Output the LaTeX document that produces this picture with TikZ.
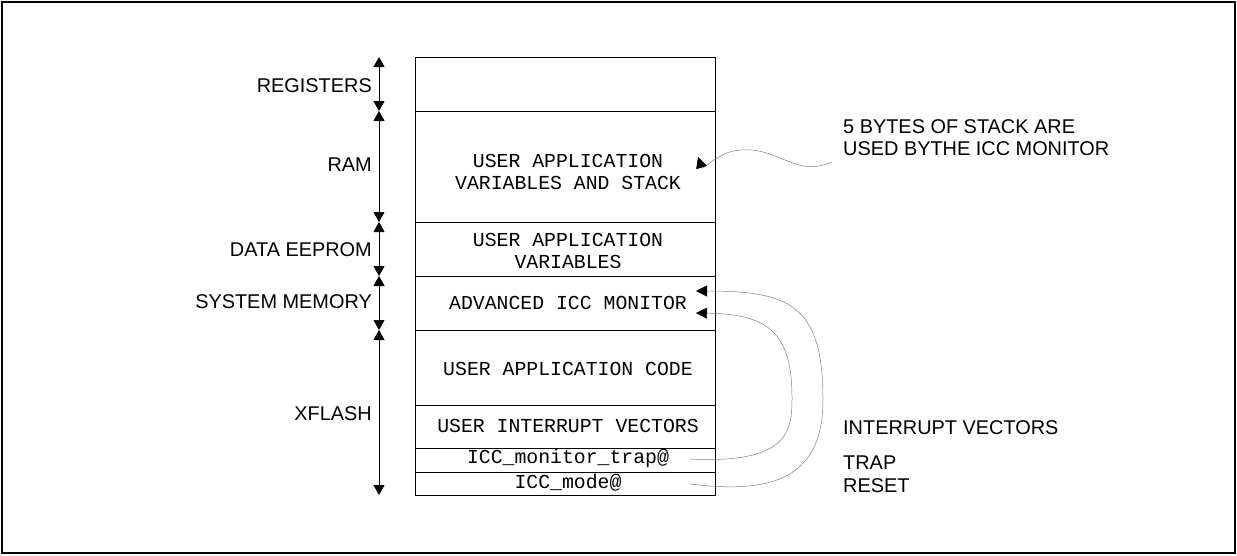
\documentclass[tikz,border=0pt]{standalone}
\usepackage{fontspec}
\setmainfont{Liberation Sans}
\newfontfamily\memfont{Liberation Mono}
\usetikzlibrary{arrows.meta}

\tikzset{
  region/.style={anchor=base east, inner sep=0pt, font=\fontsize{19.9}{22}\selectfont},
  cell/.style={anchor=center, inner sep=0pt, align=center, font=\memfont\fontsize{19.8}{22.5}\selectfont},
  note/.style={anchor=base west, inner sep=0pt, align=left, font=\fontsize{19.9}{22}\selectfont},
  span/.style={{Triangle[length=10pt,width=11pt]}-{Triangle[length=10pt,width=11pt]}, line width=0.8pt},
  link/.style={-{Triangle[length=11pt,width=11pt,color=black]}, draw=black!50, line width=0.5pt},
}

\begin{document}
\begin{tikzpicture}[x=1pt,y=-1pt]
    \useasboundingbox (0,0) rectangle (1237,555);
    \draw[line width=1.6pt] (2,2) rectangle (1235,553);

    % memory map
    \draw[line width=0.9pt] (415,57) rectangle (715,495);
    \foreach \y in {111,222,276,330,405,448,472}
        \draw[line width=0.9pt] (415,\y) -- (715,\y);

    \node[cell] (ramtxt) at (568,172) {USER APPLICATION\\VARIABLES AND STACK};
    \node[cell] (eetxt) at (568,251) {USER APPLICATION\\VARIABLES};
    \node[cell] (mon) at (568,303) {ADVANCED ICC MONITOR};
    \node[cell] (code) at (568,369) {USER APPLICATION CODE};
    \node[cell] (uiv) at (568,426) {USER INTERRUPT VECTORS};
    \node[cell] (trap) at (568,458) {ICC\_monitor\_trap@};
    \node[cell] (mode) at (568,483) {ICC\_mode@};

    % region spans
    \coordinate (s0) at (379,57);
    \coordinate (s1) at (379,111);
    \coordinate (s2) at (379,222);
    \coordinate (s3) at (379,276);
    \coordinate (s4) at (379,330);
    \coordinate (s5) at (379,495);
    \draw[span] (s0) -- (s1);
    \draw[span] (s1) -- (s2);
    \draw[span] (s2) -- (s3);
    \draw[span] (s3) -- (s4);
    \draw[span] (s4) -- (s5);

    \node[region] (regs) at (372,92) {REGISTERS};
    \node[region] (ram) at (372,171) {RAM};
    \node[region] (eeprom) at (372,256) {DATA EEPROM};
    \node[region] (sysmem) at (372,308) {SYSTEM MEMORY};
    \node[region] (xflash) at (372,420) {XFLASH};

    % notes on the right
    \node[note] (stack) at (843,155) {5 BYTES OF STACK ARE\\USED BYTHE ICC MONITOR};
    \node[note] (ivec) at (843,434) {INTERRUPT VECTORS};
    \node[note] (trapn) at (843,469) {TRAP};
    \node[note] (reset) at (843,492) {RESET};

    \coordinate (stk) at (832,162);
    \coordinate (stktip) at (698,157);
    \coordinate (trapsrc) at (690,459);
    \coordinate (modesrc) at (690,484);
    \coordinate (montip1) at (696,291);
    \coordinate (montip2) at (696,313);

    \draw[link] (stk) .. controls (795,178) and (780,147) .. (740,150)
        .. controls (716,152) and (703,172) .. (stktip);
    \draw[link] (modesrc) .. controls (770,494) and (823,480) .. (823,400)
        .. controls (823,305) and (790,291) .. (montip1);
    \draw[link] (trapsrc) .. controls (790,464) and (792,430) .. (792,397)
        .. controls (792,330) and (765,314) .. (montip2);
\end{tikzpicture}
\end{document}
